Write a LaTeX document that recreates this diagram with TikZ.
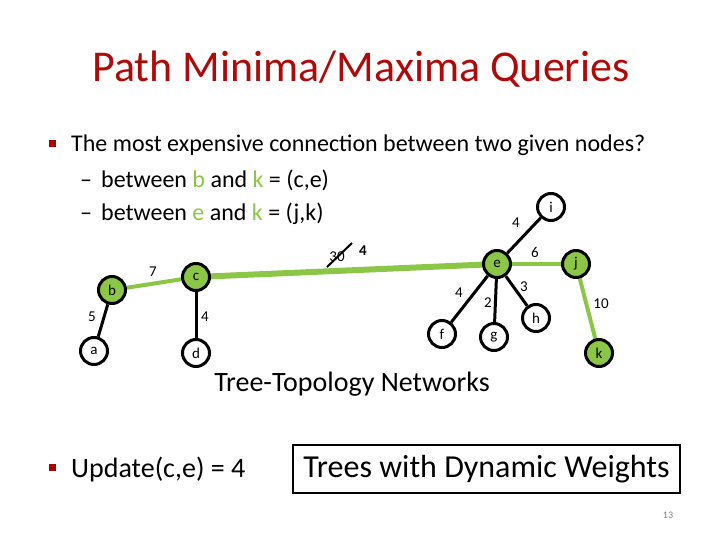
\documentclass[tikz,border=0pt]{standalone}
\usepackage{fontspec}
\setmainfont{Carlito}
\usetikzlibrary{backgrounds}
\definecolor{tgreen}{RGB}{140,198,70}
\definecolor{tred}{RGB}{175,10,10}
\definecolor{bred}{RGB}{170,0,0}
\tikzset{
  vtx/.style={circle,draw=black,line width=3pt,minimum size=27pt,inner sep=0pt,font=\fontsize{15}{17}\selectfont},
  gvtx/.style={vtx,fill=tgreen},
  wvtx/.style={vtx,fill=white},
  bedge/.style={line width=3pt,black},
  gedge/.style={line width=4pt,tgreen},
  wlab/.style={font=\fontsize{15}{17}\selectfont,inner sep=0pt},
  bul/.style={fill=bred,minimum size=7pt,inner sep=0pt},
  body/.style={font=\fontsize{24}{28}\selectfont,inner sep=0pt,anchor=base west}
}
\begin{document}
\begin{tikzpicture}[x=1pt,y=-1pt]
\useasboundingbox (0,0) rectangle (720,540);
% title
\node[font=\fontsize{44}{50}\selectfont,text=tred,anchor=base,inner sep=0pt] (title) at (361,82) {Path Minima/Maxima Queries};
% bullets
\node[bul] (bul1) at (52,144) {};
\node[body] (l1) at (71,152) {The most expensive connection between two given nodes?};
\node[body] (l2) at (80,188) {–\hspace{9pt}between \textcolor{tgreen}{b} and \textcolor{tgreen}{k} = (c,e)};
\node[body] (l3) at (80,221) {–\hspace{9pt}between \textcolor{tgreen}{e} and \textcolor{tgreen}{k} = (j,k)};
% vertices
\node[gvtx] (b) at (112,290) {b};
\node[wvtx] (a) at (94,351) {a};
\node[gvtx] (c) at (196,277) {c};
\node[wvtx] (d) at (196,353) {d};
\node[gvtx] (e) at (497,264) {e};
\node[wvtx] (i) at (551,207) {i};
\node[gvtx] (j) at (576,264) {j};
\node[gvtx] (k) at (599,353) {k};
\node[wvtx] (f) at (442,334) {f};
\node[wvtx] (g) at (494,337) {g};
\node[wvtx] (h) at (536,318) {h};
\begin{scope}[on background layer]
\draw[gedge] (b) -- (c);
\draw[gedge,line width=6pt] (c) -- (e);
\draw[gedge] (e) -- (j);
\draw[gedge] (j) -- (k);
\draw[bedge] (b) -- (a);
\draw[bedge] (c) -- (d);
\draw[bedge] (e) -- (i);
\draw[bedge] (e) -- (f);
\draw[bedge] (e) -- (g);
\draw[bedge] (e) -- (h);
\end{scope}
% weights
\node[wlab] (w7) at (153,272) {7};
\node[wlab] (w5) at (92,317) {5};
\node[wlab] (w4cd) at (205,317) {4};
\node[wlab] (w30) at (337,257) {30};
\coordinate (s1) at (327,267);
\coordinate (s2) at (352,243);
\draw[line width=2pt] (s1) -- (s2);
\node[wlab,font=\fontsize{15}{17}\selectfont\bfseries] (w4new) at (363,251) {4};
\node[wlab] (w4ei) at (516,223) {4};
\node[wlab] (w6) at (535,252) {6};
\node[wlab] (w4ef) at (459,293) {4};
\node[wlab] (w2) at (488,303) {2};
\node[wlab] (w3) at (524,287) {3};
\node[wlab] (w10) at (601,304) {10};
% captions
\node[font=\fontsize{28}{32}\selectfont,anchor=base,inner sep=0pt] (cap1) at (352,391) {Tree-Topology Networks};
\node[bul] (bul2) at (52,467) {};
\node[font=\fontsize{28}{32}\selectfont,anchor=base west,inner sep=0pt] (upd) at (71,477) {Update(c,e) = 4};
\node[draw,line width=2pt,minimum width=387pt,minimum height=48pt,inner sep=0pt,font=\fontsize{32}{36}\selectfont] (box) at (486.5,469) {Trees with Dynamic Weights};
\node[font=\fontsize{10}{12}\selectfont,text=gray,inner sep=0pt] (pg) at (668,515) {13};
\end{tikzpicture}
\end{document}
